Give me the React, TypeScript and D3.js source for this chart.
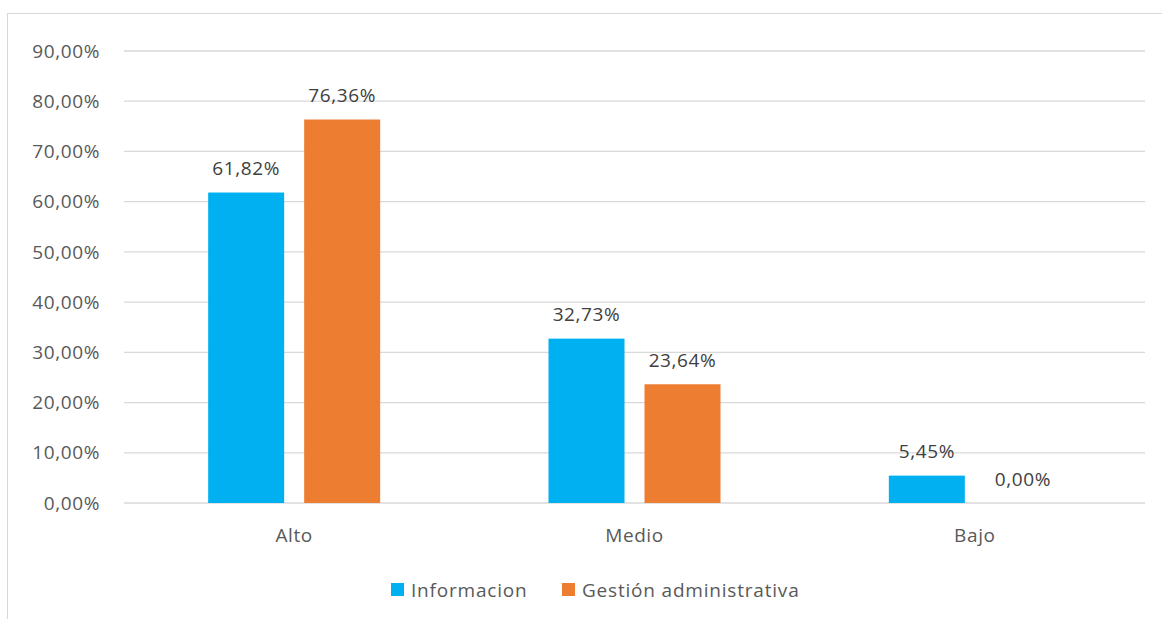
import React from "react";
import * as d3 from "d3";

const categories = ["Alto", "Medio", "Bajo"];
const seriesNames = ["Informacion", "Gestión administrativa"];
const informacion = [61.82, 32.73, 5.45];
const gestion = [76.36, 23.64, 0.0];
const yTicks = [0, 10, 20, 30, 40, 50, 60, 70, 80, 90];
const colors = ["#00B0F0", "#ED7D31"];

const W = 1162;
const H = 619;
const left = 124;
const right = 1145;
const top = 51;
const bottom = 503;

const fmt = (v: number) => v.toFixed(2).replace(".", ",") + "%";

export default function App() {
  const x = d3.scaleBand<string>().domain(categories).range([left, right]).paddingInner(0).paddingOuter(0);
  const y = d3.scaleLinear().domain([0, 90]).range([bottom, top]);
  const barW = 76;
  const gap = 20;
  const series = [informacion, gestion];
  const font = "'Open Sans', sans-serif";
  const textColor = "#595959";
  const fs = 19;
  const ls = 0.6;
  return (
    <svg width={W} height={H} style={{ position: "absolute", left: 0, top: 0, background: "#fff" }}>
      <rect x={7.5} y={13.5} width={W} height={H} fill="#fff" stroke="#d9d9d9" strokeWidth={1} />
      {yTicks.map((t) => (
        <g key={t}>
          <line x1={left} x2={right} y1={y(t)} y2={y(t)} stroke="#d9d9d9" strokeWidth={1.3} />
          <text x={100} y={y(t)} dy="0.35em" textAnchor="end" fontFamily={font} fontSize={fs} letterSpacing={ls} fill={textColor}>
            {fmt(t)}
          </text>
        </g>
      ))}
      {categories.map((c, i) => {
        const cx = x(c)! + x.bandwidth() / 2;
        return (
          <g key={c}>
            {series.map((s, k) => {
              const bx = k === 0 ? cx - gap / 2 - barW : cx + gap / 2;
              const v = s[i];
              return (
                <g key={k}>
                  {v > 0 && (
                    <rect x={bx} y={y(v)} width={barW} height={y(0) - y(v)} fill={colors[k]} />
                  )}
                  <text x={bx + barW / 2} y={y(v) - 24} dy="0.35em" textAnchor="middle" fontFamily={font} fontSize={fs} letterSpacing={ls} fill="#404040">
                    {fmt(v)}
                  </text>
                </g>
              );
            })}
            <text x={cx} y={535} dy="0.35em" textAnchor="middle" fontFamily={font} fontSize={fs} letterSpacing={ls} fill={textColor}>
              {c}
            </text>
          </g>
        );
      })}
      <g>
        <rect x={391} y={583} width={13} height={13} fill={colors[0]} />
        <text x={411} y={590} dy="0.35em" fontFamily={font} fontSize={fs} letterSpacing={0.8} fill={textColor}>
          {seriesNames[0]}
        </text>
        <rect x={562} y={583} width={13} height={13} fill={colors[1]} />
        <text x={582} y={590} dy="0.35em" fontFamily={font} fontSize={fs} letterSpacing={0.8} fill={textColor}>
          {seriesNames[1]}
        </text>
      </g>
    </svg>
  );
}
